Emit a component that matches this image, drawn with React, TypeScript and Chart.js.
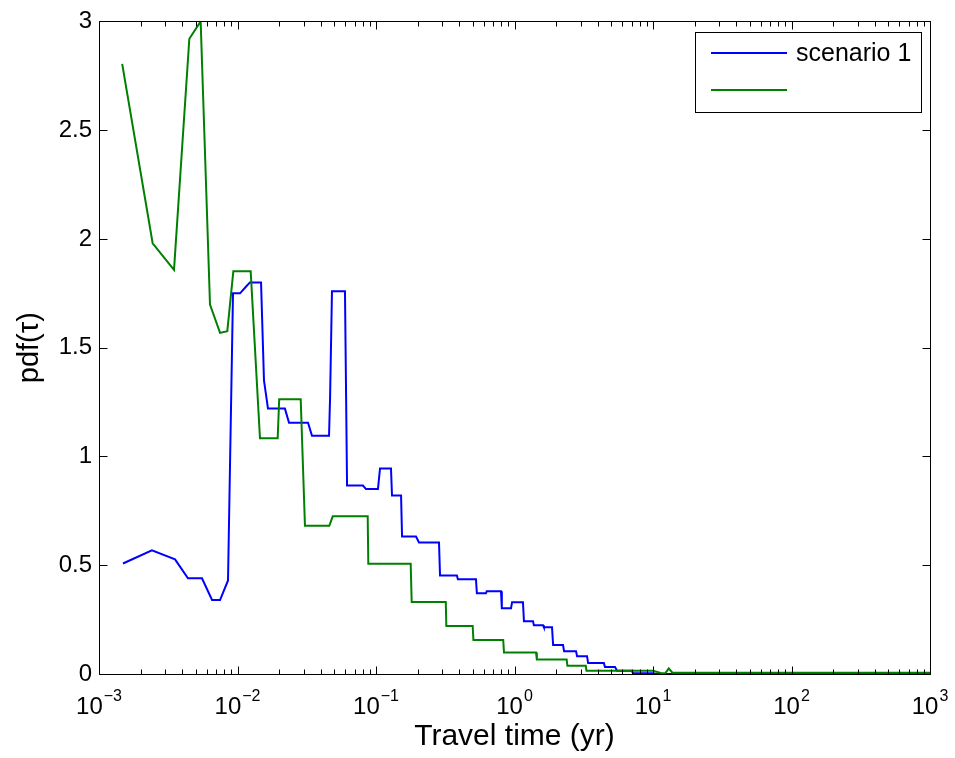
import React, { useEffect, useRef } from 'react';
import { Chart, registerables } from 'chart.js';

Chart.register(...registerables);

// ---- data (travel time in years, pdf values) ----
const blueT = [0.00149, 0.00241, 0.00354, 0.00439, 0.00554, 0.00655, 0.00748, 0.00854, 0.00928, 0.01043, 0.0115, 0.0123, 0.01479, 0.01553, 0.0166, 0.022, 0.02355, 0.0323, 0.0345, 0.0458, 0.0466, 0.0481, 0.0597, 0.0618, 0.0805, 0.0847, 0.1033, 0.1069, 0.1283, 0.1305, 0.1517, 0.1542, 0.1945, 0.2043, 0.285, 0.29, 0.384, 0.39, 0.527, 0.535, 0.622, 0.63, 0.799, 0.81, 0.944, 0.96, 1.151, 1.17, 1.36, 1.38, 1.607, 1.63, 1.866, 1.9, 2.24, 2.28, 2.78, 2.83, 3.34, 3.4, 4.42, 4.5, 5.32, 5.5, 7.0, 7.18, 10.0, 10.5, 1000];
const blueY = [0.508, 0.568, 0.527, 0.44, 0.44, 0.34, 0.34, 0.43, 1.75, 1.75, 1.78, 1.8, 1.8, 1.35, 1.22, 1.22, 1.155, 1.155, 1.095, 1.095, 1.27, 1.76, 1.76, 0.866, 0.866, 0.85, 0.85, 0.945, 0.945, 0.82, 0.82, 0.632, 0.632, 0.605, 0.605, 0.453, 0.453, 0.435, 0.435, 0.371, 0.371, 0.38, 0.38, 0.302, 0.302, 0.33, 0.33, 0.243, 0.243, 0.224, 0.224, 0.215, 0.215, 0.133, 0.133, 0.105, 0.105, 0.082, 0.082, 0.05, 0.05, 0.032, 0.032, 0.015, 0.015, 0.004, 0.004, 0, 0];

const greenT = [0.00147, 0.00244, 0.00348, 0.00449, 0.00542, 0.00633, 0.00748, 0.00844, 0.00933, 0.01245, 0.01453, 0.0195, 0.02, 0.0286, 0.0307, 0.046, 0.0487, 0.0871, 0.088, 0.178, 0.181, 0.319, 0.322, 0.499, 0.505, 0.829, 0.84, 1.43, 1.45, 2.38, 2.41, 3.27, 3.31, 10.0, 11.5, 12.3, 13.0, 13.8, 1000];
const greenY = [2.805, 1.98, 1.858, 2.92, 3.0, 1.698, 1.568, 1.576, 1.851, 1.851, 1.084, 1.084, 1.263, 1.263, 0.681, 0.681, 0.725, 0.725, 0.507, 0.507, 0.331, 0.331, 0.221, 0.221, 0.156, 0.156, 0.099, 0.099, 0.067, 0.067, 0.038, 0.038, 0.015, 0.015, 0.004, 0.004, 0.026, 0.006, 0.006];

const seriesLabels = ['scenario 1', ''];
const seriesColors = ['#0000ff', '#008000'];
const xTickExponents = [-3, -2, -1, 0, 1, 2, 3];
const yTickValues = [0, 0.5, 1, 1.5, 2, 2.5, 3];
const yTickLabels = ['0', '0.5', '1', '1.5', '2', '2.5', '3'];
const xTitle = 'Travel time (yr)';
const yTitle = 'pdf(τ)';

const FONT = '"Liberation Sans", Arial, Helvetica, sans-serif';

const matlabAxes = {
  id: 'matlabAxes',
  afterDraw(chart: any) {
    const ctx = chart.ctx;
    const xs = chart.scales.x;
    const ys = chart.scales.y;
    const { left, right, top, bottom } = chart.chartArea;
    ctx.save();
    ctx.strokeStyle = '#000';
    ctx.lineWidth = 1;
    const L = Math.round(left) + 0.5;
    const R = Math.round(right) + 0.5;
    const T = Math.round(top) + 0.5;
    const B = Math.round(bottom) + 0.5;
    ctx.beginPath();
    ctx.rect(L, T, R - L, B - T);
    ctx.stroke();

    const major = 8;
    const minor = 5;
    ctx.beginPath();
    for (let i = 0; i < xTickExponents.length; i++) {
      const e = xTickExponents[i];
      const px = Math.round(xs.getPixelForValue(Math.pow(10, e))) + 0.5;
      ctx.moveTo(px, B); ctx.lineTo(px, B - major);
      ctx.moveTo(px, T); ctx.lineTo(px, T + major);
      if (i < xTickExponents.length - 1) {
        for (let k = 2; k <= 9; k++) {
          const mx = Math.round(xs.getPixelForValue(k * Math.pow(10, e))) + 0.5;
          ctx.moveTo(mx, B); ctx.lineTo(mx, B - minor);
          ctx.moveTo(mx, T); ctx.lineTo(mx, T + minor);
        }
      }
    }
    for (const v of yTickValues) {
      const py = Math.round(ys.getPixelForValue(v)) + 0.5;
      ctx.moveTo(L, py); ctx.lineTo(L + major, py);
      ctx.moveTo(R, py); ctx.lineTo(R - major, py);
    }
    ctx.stroke();

    // x tick labels 10^n
    ctx.fillStyle = '#000';
    ctx.textBaseline = 'alphabetic';
    ctx.textAlign = 'left';
    for (const e of xTickExponents) {
      const px = xs.getPixelForValue(Math.pow(10, e));
      const base = '10';
      const exp = e < 0 ? '\u2212' + Math.abs(e) : String(e);
      ctx.font = '24px ' + FONT;
      const w1 = ctx.measureText(base).width;
      ctx.font = '16px ' + FONT;
      const w2 = ctx.measureText(exp).width;
      const start = px - (w1 + w2 + 1) / 2;
      ctx.font = '24px ' + FONT;
      ctx.fillText(base, start, 714);
      ctx.font = '16px ' + FONT;
      ctx.fillText(exp, start + w1 + 1, 701);
    }

    // legend
    const bx = 695.5, by = 32.5, bw = 226, bh = 80;
    ctx.fillStyle = '#fff';
    ctx.fillRect(bx, by, bw, bh);
    ctx.strokeStyle = '#000';
    ctx.lineWidth = 1;
    ctx.strokeRect(bx, by, bw, bh);
    const ds = chart.data.datasets;
    const rows = [53, 90];
    for (let i = 0; i < ds.length; i++) {
      ctx.strokeStyle = ds[i].borderColor;
      ctx.lineWidth = 2;
      ctx.beginPath();
      ctx.moveTo(711, rows[i]);
      ctx.lineTo(787, rows[i]);
      ctx.stroke();
      if (ds[i].label) {
        ctx.fillStyle = '#000';
        ctx.font = '25px ' + FONT;
        ctx.textBaseline = 'middle';
        ctx.fillText(ds[i].label, 796, rows[i] + 1);
      }
    }
    ctx.restore();
  },
};

export default function App() {
  const ref = useRef<HTMLCanvasElement | null>(null);
  useEffect(() => {
    if (!ref.current) return;
    const chart = new Chart(ref.current, {
      type: 'line',
      data: {
        datasets: [
          {
            label: seriesLabels[0],
            data: blueT.map((t, i) => ({ x: t, y: blueY[i] })),
            borderColor: seriesColors[0],
            borderWidth: 2,
            pointRadius: 0,
            tension: 0,
            fill: false,
            order: 1,
          },
          {
            label: seriesLabels[1],
            data: greenT.map((t, i) => ({ x: t, y: greenY[i] })),
            borderColor: seriesColors[1],
            borderWidth: 2,
            pointRadius: 0,
            tension: 0,
            fill: false,
            order: 0,
          },
        ],
      },
      options: {
        animation: false,
        responsive: false,
        maintainAspectRatio: false,
        layout: { padding: { top: 19, right: 25, bottom: 0, left: 0 } },
        plugins: { legend: { display: false }, tooltip: { enabled: false } },
        scales: {
          x: {
            type: 'logarithmic',
            min: 0.001,
            max: 1000,
            grid: { display: false, drawTicks: false },
            border: { display: false },
            ticks: { display: false },
            afterBuildTicks: (s: any) => {
              s.ticks = xTickExponents.map((e) => ({ value: Math.pow(10, e) }));
            },
            afterFit: (s: any) => { s.height = 84; },
            title: {
              display: true,
              text: xTitle,
              color: '#000',
              font: { family: FONT, size: 30, lineHeight: 1.2 },
              padding: { top: 0, bottom: 3 },
            },
          },
          y: {
            type: 'linear',
            min: 0,
            max: 3,
            grid: { display: false, drawTicks: false },
            border: { display: false },
            ticks: {
              color: '#000',
              font: { family: FONT, size: 24 },
              padding: 7,
              callback: (v: any) => {
                const i = yTickValues.indexOf(Number(v));
                return i >= 0 ? yTickLabels[i] : '';
              },
            },
            afterBuildTicks: (s: any) => {
              s.ticks = yTickValues.map((v) => ({ value: v }));
            },
            afterFit: (s: any) => { s.width = 99; },
            title: {
              display: true,
              text: yTitle,
              color: '#000',
              font: { family: FONT, size: 29 },
              padding: { top: 13, bottom: 0 },
            },
          },
        },
      },
      plugins: [matlabAxes],
    } as any);
    return () => chart.destroy();
  }, []);
  return (
    <div style={{ position: 'absolute', left: 0, top: 0, width: 955, height: 758, background: '#fff' }}>
      <canvas ref={ref} width={955} height={758} style={{ display: 'block', width: 955, height: 758 }} />
    </div>
  );
}
